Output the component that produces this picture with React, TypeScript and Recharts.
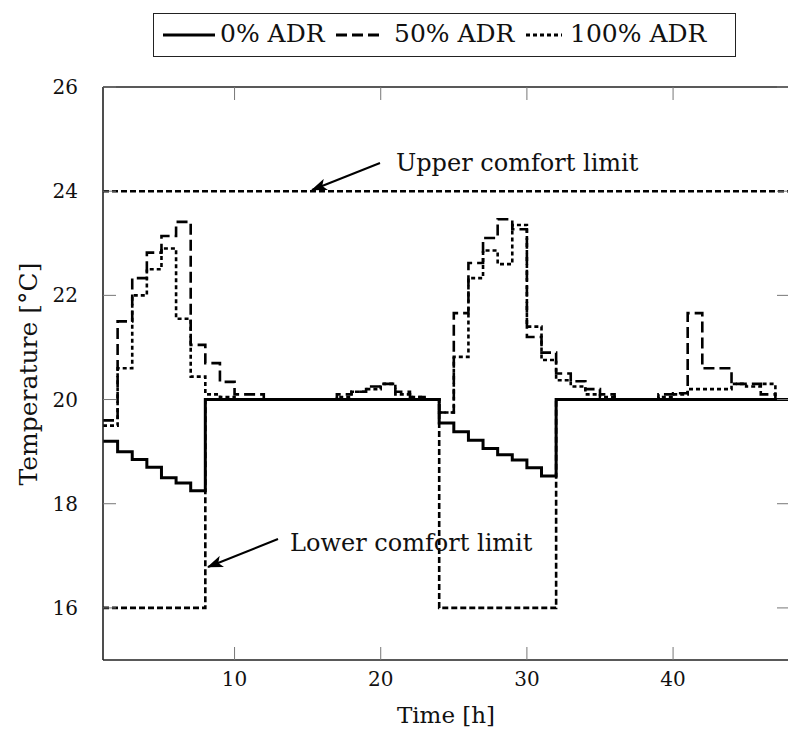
import React from 'react'
import { LineChart, Line, XAxis, YAxis } from 'recharts'

const FONT = "'DejaVu Serif', 'Liberation Serif', serif"

const hours = [
  1, 2, 3, 4, 5, 6, 7, 8, 9, 10, 11, 12, 13, 14, 15, 16,
  17, 18, 19, 20, 21, 22, 23, 24, 25, 26, 27, 28, 29, 30, 31, 32,
  33, 34, 35, 36, 37, 38, 39, 40, 41, 42, 43, 44, 45, 46, 47, 48,
]

// 0% ADR
const adr0 = [
  19.2, 19.0, 18.85, 18.7, 18.5, 18.4, 18.25, 20, 20, 20, 20, 20, 20, 20, 20, 20,
  20, 20, 20, 20, 20, 20, 20, 19.55, 19.38, 19.22, 19.06, 18.94, 18.84, 18.69, 18.53, 20,
  20, 20, 20, 20, 20, 20, 20, 20, 20, 20, 20, 20, 20, 20, 20, 20,
]

// 50% ADR
const adr50 = [
  19.6, 21.5, 22.33, 22.82, 23.14, 23.41, 21.05, 20.7, 20.34, 20.1, 20.1, 20, 20, 20, 20, 20,
  20.1, 20.15, 20.25, 20.3, 20.15, 20.05, 20, 19.75, 21.66, 22.62, 23.1, 23.46, 23.27, 21.2, 20.9, 20.5,
  20.35, 20.2, 20.1, 20, 20, 20, 20.1, 20.12, 21.66, 20.6, 20.6, 20.3, 20.3, 20.1, 20, 20,
]

// 100% ADR
const adr100 = [
  19.5, 20.6, 22.0, 22.5, 22.9, 21.55, 20.44, 20.1, 20.05, 20, 20, 20, 20, 20, 20, 20,
  20.05, 20.15, 20.2, 20.3, 20.1, 20.05, 20, 19.75, 20.82, 22.33, 22.86, 22.6, 23.35, 21.4, 20.76, 20.37,
  20.25, 20.1, 20.05, 20, 20, 20, 20.05, 20.1, 20.2, 20.2, 20.2, 20.3, 20.25, 20.3, 20, 20,
]

const lowerLimit = [
  16, 16, 16, 16, 16, 16, 16, 20, 20, 20, 20, 20, 20, 20, 20, 20,
  20, 20, 20, 20, 20, 20, 20, 16, 16, 16, 16, 16, 16, 16, 16, 20,
  20, 20, 20, 20, 20, 20, 20, 20, 20, 20, 20, 20, 20, 20, 20, 20,
]

const upperLimit = [
  24, 24, 24, 24, 24, 24, 24, 24, 24, 24, 24, 24, 24, 24, 24, 24,
  24, 24, 24, 24, 24, 24, 24, 24, 24, 24, 24, 24, 24, 24, 24, 24,
  24, 24, 24, 24, 24, 24, 24, 24, 24, 24, 24, 24, 24, 24, 24, 24,
]

const xTicks = [10, 20, 30, 40]
const yTicks = [16, 18, 20, 22, 24, 26]

const data = hours.map((t, i) => ({
  t,
  adr0: adr0[i],
  adr50: adr50[i],
  adr100: adr100[i],
  lower: lowerLimit[i],
  upper: upperLimit[i],
}))

const axisLine = { stroke: '#222', strokeWidth: 1.6 }
const tickLine = { stroke: '#777', strokeWidth: 1 }
const tickStyle = { fill: '#111', fontSize: 20, fontFamily: FONT }

const Swatch = ({ dash, width }: { dash?: string; width: number }) => (
  <svg width={width} height={10} style={{ display: 'block' }}>
    <line x1={0} y1={5} x2={width} y2={5} stroke="#000" strokeWidth={3} strokeDasharray={dash} />
  </svg>
)

export default function App() {
  return (
    <div
      style={{
        position: 'absolute', left: 0, top: 0, width: 788, height: 735,
        overflow: 'hidden', background: '#fff', fontFamily: FONT,
      }}
    >
      <LineChart width={800} height={735} data={data} margin={{ top: 86, right: 9, bottom: 0, left: 0 }}>
        <XAxis
          dataKey="t" type="number" domain={[1, 48]} ticks={xTicks} interval={0}
          allowDataOverflow height={75} tickSize={-13} tickMargin={25}
          axisLine={axisLine} tickLine={tickLine} tick={tickStyle}
        />
        <XAxis
          xAxisId="top" orientation="top" dataKey="t" type="number" domain={[1, 48]}
          ticks={xTicks} interval={0} allowDataOverflow height={1} tickSize={-13}
          tickFormatter={() => ''} axisLine={axisLine} tickLine={tickLine}
        />
        <YAxis
          type="number" domain={[15, 26]} ticks={yTicks} interval={0} allowDataOverflow
          width={103} tickSize={-13} tickMargin={38}
          axisLine={axisLine} tickLine={tickLine} tick={tickStyle}
        />
        <YAxis
          yAxisId="right" orientation="right" type="number" domain={[15, 26]} ticks={yTicks}
          interval={0} allowDataOverflow width={1} tickSize={-13}
          tickFormatter={() => ''} axisLine={axisLine} tickLine={tickLine}
        />
        <Line type="stepAfter" dataKey="upper" stroke="#000" strokeWidth={2.6} strokeDasharray="6 3" dot={false} isAnimationActive={false} legendType="none" />
        <Line type="stepAfter" dataKey="lower" stroke="#000" strokeWidth={2.6} strokeDasharray="6 3" dot={false} isAnimationActive={false} legendType="none" />
        <Line type="stepAfter" dataKey="adr100" stroke="#000" strokeWidth={2.6} strokeDasharray="4 3" dot={false} isAnimationActive={false} />
        <Line type="stepAfter" dataKey="adr50" stroke="#000" strokeWidth={2.6} strokeDasharray="11 5" dot={false} isAnimationActive={false} />
        <Line type="stepAfter" dataKey="adr0" stroke="#000" strokeWidth={3} dot={false} isAnimationActive={false} />
      </LineChart>

      <svg
        width={788} height={735}
        style={{ position: 'absolute', left: 0, top: 0, pointerEvents: 'none' }}
        fontFamily={FONT} fill="#111"
      >
        <defs>
          <marker id="head" markerUnits="userSpaceOnUse" markerWidth={16} markerHeight={12} refX={15} refY={6} orient="auto">
            <path d="M0,0 L16,6 L0,12 L4,6 Z" fill="#000" />
          </marker>
        </defs>
        <text x={30} y={374} fontSize={25} textAnchor="middle" dominantBaseline="middle" transform="rotate(-90 30 374)">
          Temperature [°C]
        </text>
        <text x={446} y={717} fontSize={23} textAnchor="middle" dominantBaseline="middle">Time [h]</text>

        <text x={396} y={171} fontSize={24}>Upper comfort limit</text>
        <line x1={380} y1={163} x2={312} y2={190} stroke="#000" strokeWidth={2} markerEnd="url(#head)" />

        <text x={290} y={551} fontSize={24}>Lower comfort limit</text>
        <line x1={278} y1={539} x2={208} y2={567} stroke="#000" strokeWidth={2} markerEnd="url(#head)" />
      </svg>

      <div
        style={{
          position: 'absolute', left: 153, top: 13, width: 583, height: 44, boxSizing: 'border-box',
          border: '1.5px solid #222', background: '#fff', fontSize: 25, color: '#111',
        }}
      >
        <div style={{ position: 'absolute', left: 9, top: 16 }}><Swatch width={52} /></div>
        <div style={{ position: 'absolute', left: 66, top: 5, lineHeight: '30px' }}>0% ADR</div>
        <div style={{ position: 'absolute', left: 182, top: 16 }}><Swatch width={43} dash="11 5" /></div>
        <div style={{ position: 'absolute', left: 240, top: 5, lineHeight: '30px' }}>50% ADR</div>
        <div style={{ position: 'absolute', left: 372, top: 16 }}><Swatch width={36} dash="4 3" /></div>
        <div style={{ position: 'absolute', left: 416, top: 5, lineHeight: '30px' }}>100% ADR</div>
      </div>
    </div>
  )
}
